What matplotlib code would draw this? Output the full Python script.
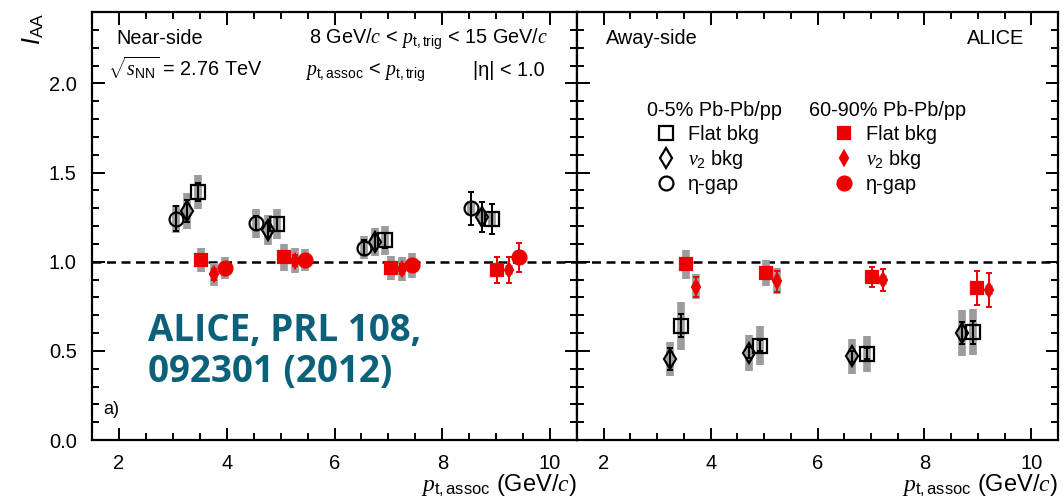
import numpy as np
import matplotlib.pyplot as plt
from matplotlib.ticker import MultipleLocator

plt.rcParams['font.family'] = ['Liberation Sans', 'DejaVu Sans']
plt.rcParams['mathtext.fontset'] = 'custom'
plt.rcParams['mathtext.rm'] = 'Liberation Sans'
plt.rcParams['mathtext.it'] = 'Liberation Serif:italic'
plt.rcParams['mathtext.sf'] = 'Liberation Sans:italic'
plt.rcParams['mathtext.bf'] = 'Liberation Sans:bold'

# ---- near side, 0-5% (black) ----
near_c_flat_x = [3.47, 4.93, 6.94, 8.93]
near_c_flat_y = [1.39, 1.21, 1.12, 1.24]
near_c_flat_stat = [0.05, 0.04, 0.04, 0.084]
near_c_flat_sys = [0.095, 0.085, 0.08, 0.04]

near_c_v2_x = [3.27, 4.77, 6.75, 8.73]
near_c_v2_y = [1.285, 1.18, 1.11, 1.25]
near_c_v2_stat = [0.06, 0.04, 0.04, 0.084]
near_c_v2_sys = [0.10, 0.085, 0.08, 0.04]

near_c_eta_x = [3.06, 4.54, 6.54, 8.53]
near_c_eta_y = [1.24, 1.216, 1.08, 1.30]
near_c_eta_stat = [0.07, 0.04, 0.04, 0.093]
near_c_eta_sys = [0.08, 0.08, 0.065, 0.04]

# ---- near side, 60-90% (red) ----
near_p_flat_x = [3.53, 5.06, 7.04, 9.02]
near_p_flat_y = [1.01, 1.024, 0.965, 0.955]
near_p_flat_stat = [0.03, 0.03, 0.03, 0.072]
near_p_flat_sys = [0.07, 0.075, 0.07, 0.03]

near_p_v2_x = [3.76, 5.26, 7.25, 9.23]
near_p_v2_y = [0.93, 1.006, 0.959, 0.954]
near_p_v2_stat = [0.03, 0.03, 0.03, 0.073]
near_p_v2_sys = [0.065, 0.07, 0.065, 0.03]

near_p_eta_x = [3.96, 5.46, 7.44, 9.43]
near_p_eta_y = [0.965, 1.01, 0.98, 1.024]
near_p_eta_stat = [0.03, 0.03, 0.03, 0.084]
near_p_eta_sys = [0.06, 0.06, 0.07, 0.04]

# ---- away side, 0-5% (black) ----
away_c_flat_x = [3.44, 4.93, 6.93, 8.91]
away_c_flat_y = [0.642, 0.53, 0.484, 0.605]
away_c_flat_stat = [0.063, 0.03, 0.03, 0.065]
away_c_flat_sys = [0.135, 0.11, 0.10, 0.128]

away_c_v2_x = [3.24, 4.72, 6.65, 8.71]
away_c_v2_y = [0.456, 0.49, 0.47, 0.60]
away_c_v2_stat = [0.061, 0.03, 0.03, 0.06]
away_c_v2_sys = [0.095, 0.10, 0.098, 0.127]

# ---- away side, 60-90% (red) ----
away_p_flat_x = [3.53, 5.03, 7.02, 8.99]
away_p_flat_y = [0.985, 0.937, 0.916, 0.853]
away_p_flat_stat = [0.03, 0.03, 0.056, 0.095]
away_p_flat_sys = [0.08, 0.072, 0.03, 0.03]

away_p_v2_x = [3.73, 5.24, 7.22, 9.21]
away_p_v2_y = [0.86, 0.89, 0.898, 0.842]
away_p_v2_stat = [0.056, 0.06, 0.062, 0.093]
away_p_v2_sys = [0.07, 0.073, 0.03, 0.03]

x_ticks = [2, 4, 6, 8, 10]
y_ticks = [0.0, 0.5, 1.0, 1.5, 2.0]
y_ticklabels = ['0.0', '0.5', '1.0', '1.5', '2.0']
legend_labels = ['Flat bkg', r'$v_2$ bkg', 'η-gap']

RED = '#ee0000'
GREY = '#9c9c9c'


def draw(ax, x, y, stat, sys, color, marker, ms, open_marker):
    ax.errorbar(x, y, yerr=sys, fmt='none', ecolor=GREY, elinewidth=5.5, zorder=2)
    ax.errorbar(x, y, yerr=stat, fmt='none', ecolor=color, elinewidth=1.4,
                capsize=2.5, capthick=1.4, zorder=3)
    face = 'none' if open_marker else color
    line, = ax.plot(x, y, ls='none', marker=marker, ms=ms, mfc=face, mec=color,
                    mew=1.6, zorder=4)
    return line


fig = plt.figure(figsize=(10.64, 5.03), dpi=100)
axl = fig.add_axes([0.0865, 0.125, 0.4558, 0.851])
axr = fig.add_axes([0.5423, 0.125, 0.4521, 0.851])

h_cf = draw(axl, near_c_flat_x, near_c_flat_y, near_c_flat_stat, near_c_flat_sys, 'black', 's', 10, True)
h_cv = draw(axl, near_c_v2_x, near_c_v2_y, near_c_v2_stat, near_c_v2_sys, 'black', 'd', 10, True)
h_ce = draw(axl, near_c_eta_x, near_c_eta_y, near_c_eta_stat, near_c_eta_sys, 'black', 'o', 10, True)
h_pf = draw(axl, near_p_flat_x, near_p_flat_y, near_p_flat_stat, near_p_flat_sys, RED, 's', 9, False)
h_pv = draw(axl, near_p_v2_x, near_p_v2_y, near_p_v2_stat, near_p_v2_sys, RED, 'd', 7, False)
h_pe = draw(axl, near_p_eta_x, near_p_eta_y, near_p_eta_stat, near_p_eta_sys, RED, 'o', 10, False)

draw(axr, away_c_flat_x, away_c_flat_y, away_c_flat_stat, away_c_flat_sys, 'black', 's', 10, True)
draw(axr, away_c_v2_x, away_c_v2_y, away_c_v2_stat, away_c_v2_sys, 'black', 'd', 10, True)
draw(axr, away_p_flat_x, away_p_flat_y, away_p_flat_stat, away_p_flat_sys, RED, 's', 9, False)
draw(axr, away_p_v2_x, away_p_v2_y, away_p_v2_stat, away_p_v2_sys, RED, 'd', 7, False)

for ax in (axl, axr):
    ax.set_xlim(1.5, 10.5)
    ax.set_ylim(0, 2.4)
    ax.axhline(1.0, color='black', ls=(0, (3.6, 2.2)), lw=1.8, zorder=1)
    ax.set_xticks(x_ticks)
    ax.set_xticklabels([str(t) for t in x_ticks])
    ax.xaxis.set_minor_locator(MultipleLocator(0.5))
    ax.set_yticks(y_ticks)
    ax.yaxis.set_minor_locator(MultipleLocator(0.1))
    ax.tick_params(which='both', direction='in', top=True, right=True, width=1.4,
                   labelsize=14.5, colors='black')
    ax.tick_params(which='major', length=9)
    ax.tick_params(which='minor', length=5)
    ax.tick_params(axis='x', which='major', pad=10)
    ax.tick_params(axis='y', which='major', pad=11)
    for s in ax.spines.values():
        s.set_linewidth(1.6)
    ax.set_xlabel(r'$p_{\mathrm{t,assoc}}$ (GeV/$c$)', loc='right', fontsize=17, labelpad=0)

axl.set_yticklabels(y_ticklabels)
axr.tick_params(labelleft=False)
axl.set_ylabel(r'$\mathsf{I}_{\mathrm{AA}}$', loc='top', fontsize=18, labelpad=2)

fs = 14.3
axl.text(0.05, 0.925, 'Near-side', transform=axl.transAxes, fontsize=fs)
axl.text(0.033, 0.85, r'$\sqrt{s_{\mathrm{NN}}}$ = 2.76 TeV', transform=axl.transAxes, fontsize=fs)
axl.text(0.94, 0.925, r'8 GeV/$c$ < $p_{\mathrm{t,trig}}$ < 15 GeV/$c$', transform=axl.transAxes,
         fontsize=fs, ha='right')
axl.text(0.44, 0.85, r'$p_{\mathrm{t,assoc}}$ < $p_{\mathrm{t,trig}}$', transform=axl.transAxes, fontsize=fs)
axl.text(0.933, 0.85, r'|η| < 1.0', transform=axl.transAxes, fontsize=fs, ha='right')
axl.text(0.024, 0.06, 'a)', transform=axl.transAxes, fontsize=13)
axl.text(0.115, 0.135, 'ALICE, PRL 108,\n092301 (2012)', transform=axl.transAxes,
         fontsize=26.5, fontweight='bold', family='Open Sans', color='#0b607a',
         linespacing=1.1)

axr.text(0.06, 0.925, 'Away-side', transform=axr.transAxes, fontsize=fs)
axr.text(0.93, 0.925, 'ALICE', transform=axr.transAxes, fontsize=fs, ha='right')

axr.text(0.1455, 0.757, '0-5% Pb-Pb/pp', transform=axr.transAxes, fontsize=fs)
axr.text(0.482, 0.757, '60-90% Pb-Pb/pp', transform=axr.transAxes, fontsize=fs)

leg_kw = dict(loc='upper left', frameon=False, fontsize=fs, handlelength=1.0,
              handletextpad=0.6, labelspacing=0.22, borderpad=0, borderaxespad=0)
leg1 = axr.legend([h_cf, h_cv, h_ce], legend_labels, bbox_to_anchor=(0.164, 0.737), **leg_kw)
axr.add_artist(leg1)
axr.legend([h_pf, h_pv, h_pe], legend_labels, bbox_to_anchor=(0.535, 0.737), **leg_kw)

fig.savefig('out.png', dpi=100)
